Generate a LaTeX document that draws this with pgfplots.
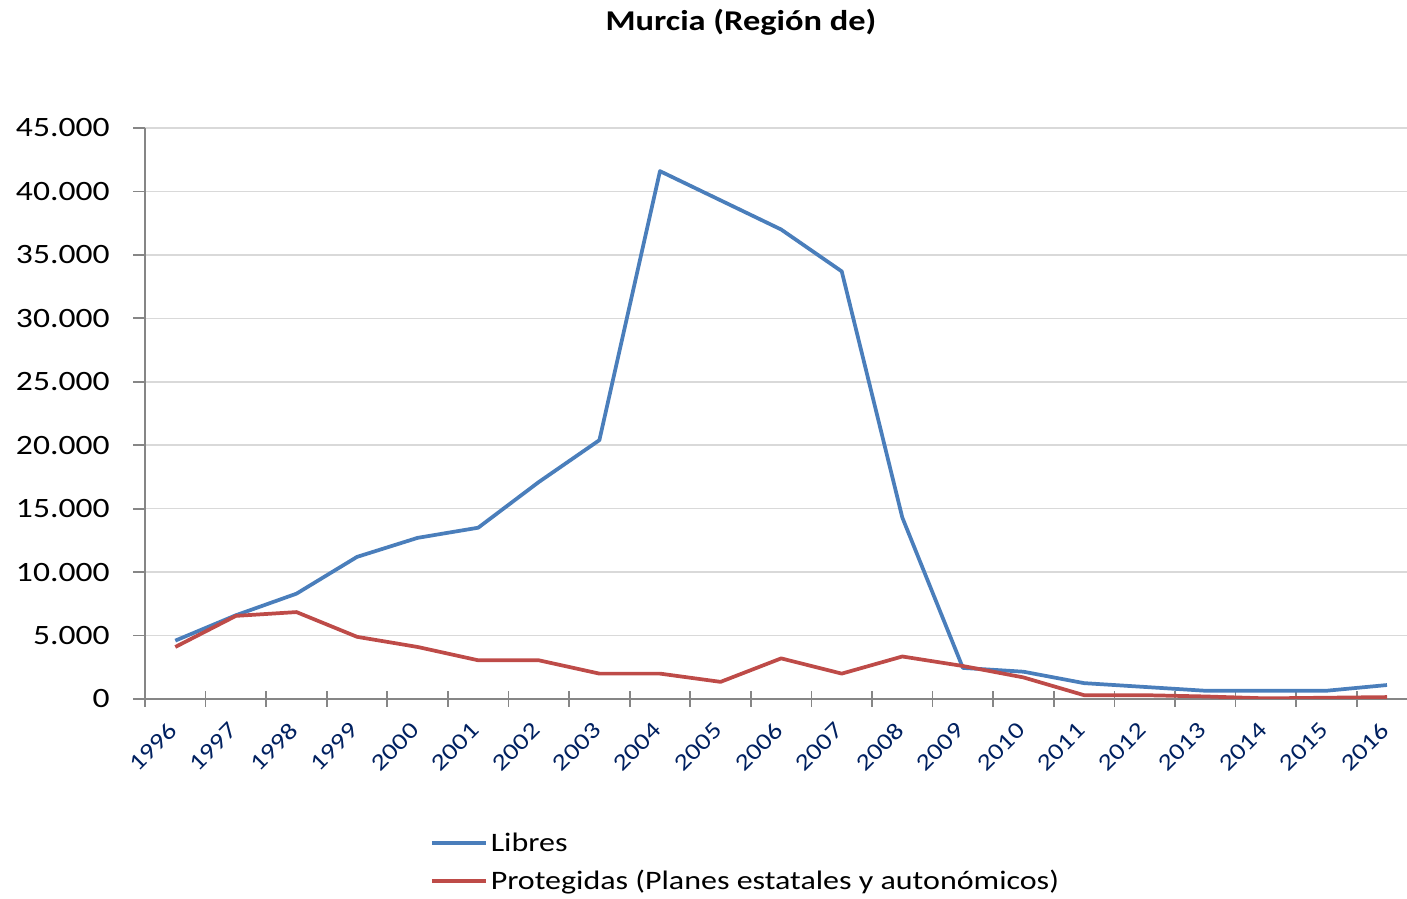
\documentclass[border=0pt]{standalone}
\usepackage{pgfplots}
\pgfplotsset{compat=1.18}
\usepackage{fontspec}
\setmainfont{Carlito}[FakeStretch=1.2]
\definecolor{libres}{HTML}{4A7EBB}
\definecolor{proteg}{HTML}{BE4B48}
\definecolor{axisgray}{HTML}{868686}
\definecolor{gridgray}{HTML}{D9D9D9}
\definecolor{navy}{HTML}{002060}

\begin{document}
\begin{tikzpicture}
\begin{axis}[
  at={(108.75pt,150pt)}, anchor=south west,
  scale only axis, width=946.5pt, height=428.25pt,
  xmin=-0.5, xmax=20.33, ymin=0, ymax=45000,
  axis x line*=bottom, axis y line*=left,
  axis line style={axisgray, line width=1.3pt, -},
  xtick={0,...,20},
  xticklabels={1996,1997,1998,1999,2000,2001,2002,2003,2004,2005,2006,2007,2008,2009,2010,2011,2012,2013,2014,2015,2016},
  major x tick style={draw=none},
  minor xtick={-0.5,0.5,...,19.5},
  minor x tick style={axisgray, line width=1.3pt},
  minor tick length=12pt,
  xtick align=center,
  ytick={0,5000,...,45000},
  ytick align=outside,
  major tick length=9pt,
  major y tick style={axisgray, line width=1.3pt},
  ymajorgrids, grid style={gridgray, line width=1.1pt},
  scaled y ticks=false,
  /pgf/number format/.cd, fixed, precision=0, 1000 sep={.}, assume math mode=true,
  /pgfplots/.cd,
  yticklabel style={font=\fontsize{21}{21}\selectfont, text=black, xshift=-14pt},
  xticklabel style={font=\fontsize{17.5}{17.5}\selectfont, text=navy, xshift=-6pt, yshift=-10.5pt, rotate=45, anchor=north east, inner sep=1pt},
  legend style={at={(axis description cs:0.2258,-0.229)}, anchor=north west, draw=none, fill=none,
    font=\fontsize{20}{20}\selectfont, row sep=8.75pt, inner sep=0pt},
  legend cell align=left,
  legend image code/.code={\draw[#1, line width=2.4pt] (0pt,0pt) -- (41pt,0pt);},
]
\addplot[libres, line width=2.8pt, line join=round] coordinates {
  (0,4600) (1,6600) (2,8300) (3,11200) (4,12700) (5,13500) (6,17100)
  (7,20400) (8,41600) (9,39300) (10,37000) (11,33700) (12,14300) (13,2450)
  (14,2150) (15,1250) (16,950) (17,650) (18,650) (19,650) (20,1100)
};
\addlegendentry{Libres}
\addplot[proteg, line width=2.8pt, line join=round] coordinates {
  (0,4100) (1,6550) (2,6850) (3,4900) (4,4100) (5,3050) (6,3050)
  (7,2000) (8,2000) (9,1350) (10,3200) (11,2000) (12,3350) (13,2600)
  (14,1700) (15,300) (16,300) (17,200) (18,50) (19,100) (20,150)
};
\addlegendentry{Protegidas (Planes estatales y autonómicos)}
\end{axis}
\node[font=\bfseries\fontsize{21.5}{21.5}\selectfont] at (555.75pt,657.75pt) {Murcia (Región de)};
\pgfresetboundingbox
\path[use as bounding box] (0,0) rectangle (1055.25pt,674.25pt);
\end{tikzpicture}
\end{document}
